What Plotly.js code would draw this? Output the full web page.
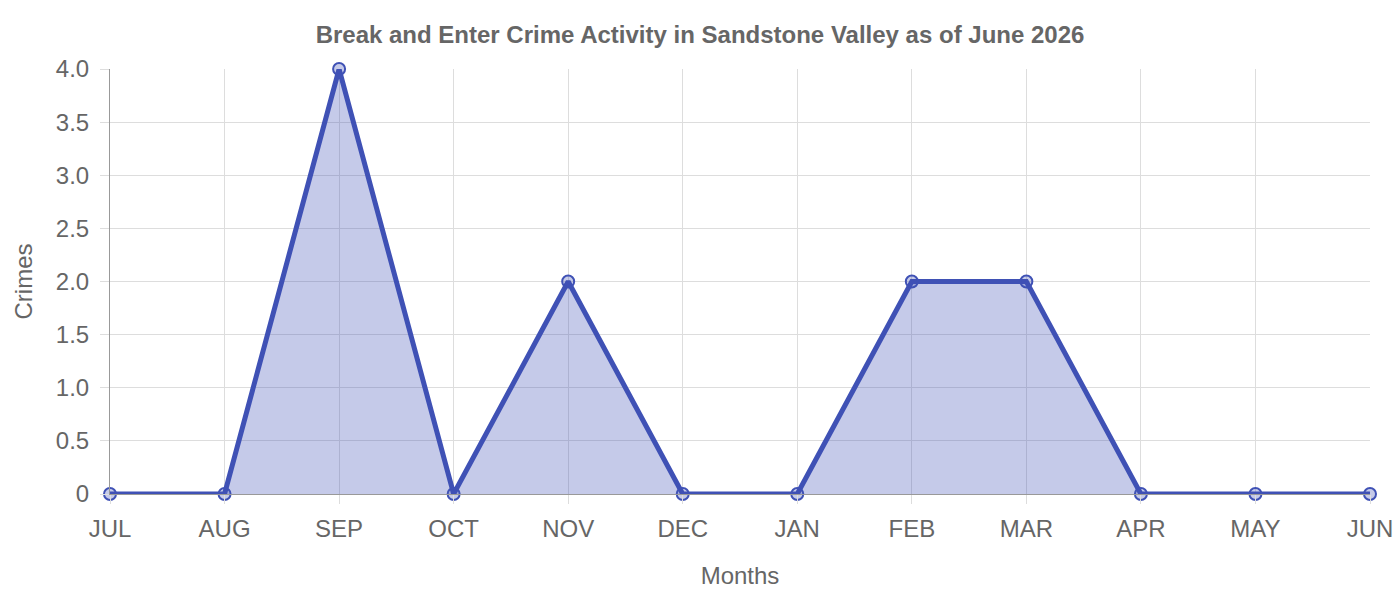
<!DOCTYPE html>
<html>
<head>
<meta charset="utf-8">
<script src="https://cdn.plot.ly/plotly-3.0.1.min.js"></script>
<style>
  html, body { margin: 0; padding: 0; background: #fff; }
  #chart { width: 1400px; height: 600px; }
</style>
</head>
<body>
<div id="chart"></div>
<script>
// months shown along the x axis
const months = ['JUL', 'AUG', 'SEP', 'OCT', 'NOV', 'DEC', 'JAN', 'FEB', 'MAR', 'APR', 'MAY', 'JUN'];
// break and enter crimes per month
const crimes = [0, 0, 4, 0, 2, 0, 0, 2, 2, 0, 0, 0];
// y axis ticks
const yTickVals = [0, 0.5, 1, 1.5, 2, 2.5, 3, 3.5, 4];
const yTickText = ['0', '0.5', '1.0', '1.5', '2.0', '2.5', '3.0', '3.5', '4.0'];

const lineColor = '#3f51b5';
const gridColor = '#dddddd';
const textColor = '#666666';
const fontFamily = '"Liberation Sans", Arial, sans-serif';

const data = [
    {
        x: months,
        y: crimes,
        type: 'scatter',
        mode: 'lines+markers',
        fill: 'tozeroy',
        fillcolor: 'rgba(63,81,181,0.3)',
        line: {color: lineColor, width: 5},
        marker: {
            size: 12,
            color: 'rgba(63,81,181,0.3)',
            line: {color: lineColor, width: 2}
        },
        cliponaxis: false,
        hoverinfo: 'x+y'
    }
];

const layout = {
    width: 1400,
    height: 600,
    paper_bgcolor: '#ffffff',
    plot_bgcolor: '#ffffff',
    showlegend: false,
    font: {family: fontFamily, color: textColor},
    margin: {t: 69, r: 30, b: 106, l: 110},
    title: {
        text: '<b>Break and Enter Crime Activity in Sandstone Valley as of June 2026</b>',
        font: {size: 24, color: textColor, family: fontFamily},
        x: 0.5,
        xanchor: 'center',
        y: 0.943,
        yanchor: 'middle'
    },
    xaxis: {
        type: 'category',
        range: [0, months.length - 1],
        showgrid: true,
        gridcolor: gridColor,
        gridwidth: 1,
        zeroline: false,
        showline: true,
        linecolor: '#999999',
        linewidth: 1,
        ticks: 'outside',
        ticklen: 9,
        tickcolor: gridColor,
        ticklabelstandoff: 4,
        tickfont: {size: 24, color: textColor},
        title: {text: 'Months', font: {size: 24, color: textColor}, standoff: 26}
    },
    yaxis: {
        range: [0, 4],
        tickvals: yTickVals,
        ticktext: yTickText,
        showgrid: true,
        gridcolor: gridColor,
        gridwidth: 1,
        zeroline: false,
        showline: true,
        linecolor: '#999999',
        linewidth: 1,
        ticks: 'outside',
        ticklen: 9,
        tickcolor: gridColor,
        ticklabelstandoff: 6,
        tickfont: {size: 24, color: textColor},
        title: {text: 'Crimes', font: {size: 24, color: textColor}, standoff: 16}
    }
};

Plotly.newPlot('chart', data, layout, {displayModeBar: false, responsive: false});
</script>
</body>
</html>
